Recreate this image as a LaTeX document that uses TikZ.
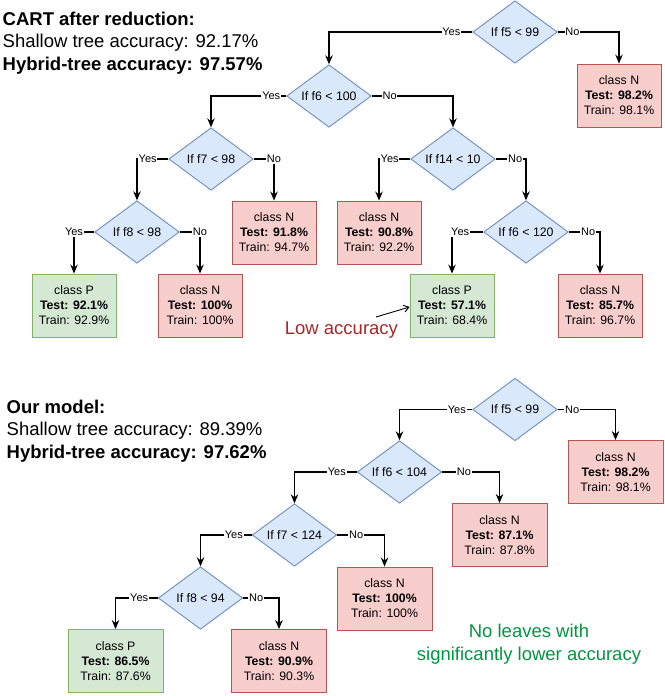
\documentclass[tikz,border=0pt]{standalone}
\usepackage{fontspec}
\setmainfont{Liberation Sans}
\usetikzlibrary{shapes.geometric,arrows.meta}
\definecolor{decfill}{HTML}{DAE8FC}
\definecolor{decline}{HTML}{6C8EBF}
\definecolor{nfill}{HTML}{F8CECC}
\definecolor{nline}{HTML}{B85450}
\definecolor{pfill}{HTML}{D5E8D4}
\definecolor{pline}{HTML}{82B366}
\definecolor{lowred}{RGB}{165,40,40}
\definecolor{okgreen}{RGB}{0,150,64}

\begin{document}
\begin{tikzpicture}[x=1pt, y=-1pt,
    decision/.style={diamond, aspect=1.35, draw=decline, fill=decfill, line width=0.9pt,
      minimum width=84.5pt, minimum height=62.5pt, inner sep=0pt, font=\fontsize{12.3}{15}\selectfont},
    leaf/.style={rectangle, line width=0.9pt, minimum width=84pt, minimum height=63pt,
      inner sep=0pt, align=center, font=\fontsize{12.3}{15}\selectfont},
    leafN/.style={leaf, draw=nline, fill=nfill},
    leafP/.style={leaf, draw=pline, fill=pfill},
    branch/.style={line width=1.1pt, -{Stealth[length=9pt,width=7.5pt,inset=3pt]}},
    elabel/.style={fill=white, inner sep=0.8pt, font=\fontsize{11}{13}\selectfont},
    heading/.style={anchor=base west, inner sep=0pt, font=\fontsize{18.5}{22}\selectfont},
  ]
  \useasboundingbox (0,0) rectangle (664,696);

  % CART after reduction
  \node[heading] (cart) at (2.5,25) {\textbf{CART after reduction:}};
  \node[heading] (cartshallow) at (2.5,47.3) {Shallow tree accuracy: 92.17\%};
  \node[heading] (carthybrid) at (2.5,70) {\textbf{Hybrid-tree accuracy: 97.57\%}};

  \node[decision] (d1) at (515,32) {If f5 < 99};
  \node[decision] (d2) at (329,96) {If f6 < 100};
  \node[decision] (d3) at (211,159) {If f7 < 98};
  \node[decision] (d4) at (453,159) {If f14 < 10};
  \node[decision] (d5) at (137,232) {If f8 < 98};
  \node[decision] (d6) at (526,232) {If f6 < 120};

  \foreach \nm/\x/\y/\cls/\te/\tr in {
      n1/619/95.5/N/98.2/98.1,
      n2/274/232.5/N/91.8/94.7,
      n3/200/305.5/N/100/100,
      p1/74/305.5/P/92.1/92.9,
      n4/379/232.5/N/90.8/92.2,
      p2/452/305.5/P/57.1/68.4,
      n5/600/305.5/N/85.7/96.7} {
    \node[leaf\cls] (\nm) at (\x,\y) {class \cls\\\textbf{Test: \te\%}\\Train: \tr\%};
  }

  \node[heading, text=lowred] (low) at (284.7,334.3) {Low accuracy};
  \coordinate (lowfrom) at (376,317);
  \draw[line width=0.9pt, -{Straight Barb[length=5pt,width=7pt]}] (lowfrom) -- ([yshift=-1.5pt]p2.west);

  % Our model
  \node[heading] (ours) at (6.5,413.3) {\textbf{Our model:}};
  \node[heading] (oursshallow) at (6.5,435.7) {Shallow tree accuracy: 89.39\%};
  \node[heading] (ourshybrid) at (6.5,458.3) {\textbf{Hybrid-tree accuracy: 97.62\%}};

  \node[decision] (d7) at (515,409.5) {If f5 < 99};
  \node[decision] (d8) at (399.5,472) {If f6 < 104};
  \node[decision] (d9) at (294.5,535) {If f7 < 124};
  \node[decision] (d10) at (200.5,598) {If f8 < 94};

  \foreach \nm/\x/\y/\cls/\te/\tr in {
      n6/615.5/472/N/98.2/98.1,
      n7/499.5/535/N/87.1/87.8,
      n8/384.5/598.5/N/100/100,
      n9/279/661/N/90.9/90.3,
      p3/115.5/661/P/86.5/87.6} {
    \node[leaf\cls, minimum width=95pt] (\nm) at (\x,\y) {class \cls\\\textbf{Test: \te\%}\\Train: \tr\%};
  }

  \node[anchor=base, inner sep=0pt, text=okgreen, font=\fontsize{18.5}{22}\selectfont] (noleaves) at (529,637.3) {No leaves with};
  \node[anchor=base, inner sep=0pt, text=okgreen, font=\fontsize{18.5}{22}\selectfont] (noleaves2) at (529,660) {significantly lower accuracy};

  % Yes branches
  \foreach \a/\b/\p in {d1/d2/.073, d2/d3/.10, d3/d5/.33, d5/p1/.5, d4/n4/.33, d6/p2/.37,
      d7/d8/.106, d8/d9/.16, d9/d10/.175, d10/p3/.22}
    \draw[branch] (\a.west) -| node[elabel, pos=\p] {Yes} (\b.north);
  % No branches
  \foreach \a/\b/\p in {d1/n1/.12, d2/d4/.11, d3/n2/.5, d5/n3/.5, d4/d6/.32, d6/n5/.31,
      d7/n6/.125, d8/n7/.19, d9/n8/.2, d10/n9/.18}
    \draw[branch] (\a.east) -| node[elabel, pos=\p] {No} (\b.north);
\end{tikzpicture}
\end{document}
